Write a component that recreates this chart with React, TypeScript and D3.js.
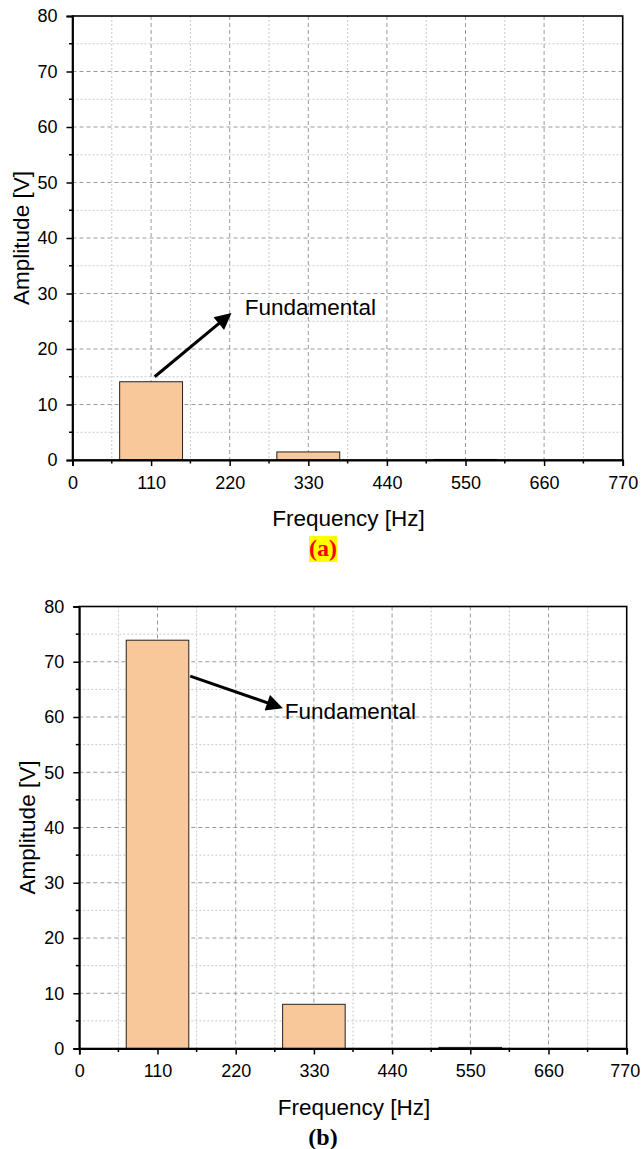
import React, { useEffect, useRef } from 'react';
import * as d3 from 'd3';

// harmonic spectrum
const harmonicsHz = [110, 330, 550];
const amplitudeA = [14.1, 1.45, 0.1];
const amplitudeB = [73.9, 8.0, 0.2];
const binWidthHz = 88;
const xTicks = [0, 110, 220, 330, 440, 550, 660, 770];
const yTicks = [0, 10, 20, 30, 40, 50, 60, 70, 80];

// arrow annotation: [startHz, startV, tipHz, tipV, labelHz, labelV]
const arrowA = [115, 15, 219, 26.1, 241, 27.6];
const arrowB = [156, 67.4, 282, 61.8, 289, 61];

const FONT = "'Liberation Sans', Arial, sans-serif";

interface PanelCfg {
  top: number;
  left: number;
  right: number;
  bottom: number;
  values: number[];
  arrow: number[];
  caption: string;
  captionY: number;
  captionHighlight: boolean;
}

const W = 641;
const H = 1149;
const CAPTION_X = 323;

const App: React.FC = () => {
  const svgRef = useRef<SVGSVGElement>(null);

  useEffect(() => {
    if (!svgRef.current) return;
    const svg = d3.select(svgRef.current);
    svg.selectAll('*').remove();

    const defs = svg.append('defs');
    defs.append('marker')
      .attr('id', 'arrowHead')
      .attr('viewBox', '0 0 10 10')
      .attr('refX', 8).attr('refY', 5)
      .attr('markerWidth', 6.5).attr('markerHeight', 5.5)
      .attr('markerUnits', 'strokeWidth')
      .attr('orient', 'auto')
      .append('path').attr('d', 'M0,0 L10,5 L0,10 z').attr('fill', '#000');

    const drawPanel = (cfg: PanelCfg) => {
      const x = d3.scaleLinear().domain([0, 770]).range([cfg.left, cfg.right]);
      const y = d3.scaleLinear().domain([0, 80]).range([cfg.bottom, cfg.top]);
      const g = svg.append('g');

      // grid: minor dotted, major dashed
      const minorX = d3.range(55, 770, 110);
      const minorY = d3.range(5, 80, 10);
      g.selectAll('.mgx').data(minorX).join('line')
        .attr('x1', d => x(d)).attr('x2', d => x(d))
        .attr('y1', cfg.top).attr('y2', cfg.bottom)
        .attr('stroke', '#c8c8c8').attr('stroke-width', 1).attr('stroke-dasharray', '2,2');
      g.selectAll('.mgy').data(minorY).join('line')
        .attr('y1', d => y(d)).attr('y2', d => y(d))
        .attr('x1', cfg.left).attr('x2', cfg.right)
        .attr('stroke', '#c8c8c8').attr('stroke-width', 1).attr('stroke-dasharray', '2,2');
      g.selectAll('.gx').data(xTicks.slice(1, -1)).join('line')
        .attr('x1', d => x(d)).attr('x2', d => x(d))
        .attr('y1', cfg.top).attr('y2', cfg.bottom)
        .attr('stroke', '#9a9a9a').attr('stroke-width', 1).attr('stroke-dasharray', '4,3');
      g.selectAll('.gy').data(yTicks.slice(1, -1)).join('line')
        .attr('y1', d => y(d)).attr('y2', d => y(d))
        .attr('x1', cfg.left).attr('x2', cfg.right)
        .attr('stroke', '#9a9a9a').attr('stroke-width', 1).attr('stroke-dasharray', '4,3');

      // bars
      g.selectAll('.bar').data(harmonicsHz).join('rect')
        .attr('x', d => x(d - binWidthHz / 2))
        .attr('width', d => x(d + binWidthHz / 2) - x(d - binWidthHz / 2))
        .attr('y', (_d, i) => y(cfg.values[i]))
        .attr('height', (_d, i) => y(0) - y(cfg.values[i]))
        .attr('fill', '#f9c89a')
        .attr('stroke', '#222').attr('stroke-width', 1);

      // frame
      g.append('rect')
        .attr('x', cfg.left).attr('y', cfg.top)
        .attr('width', cfg.right - cfg.left).attr('height', cfg.bottom - cfg.top)
        .attr('fill', 'none').attr('stroke', '#000').attr('stroke-width', 1.6);

      // axes
      const xAxis = d3.axisBottom(x).tickValues(xTicks).tickSize(6).tickPadding(10).tickFormat(d3.format('d'));
      const xa = g.append('g').attr('transform', `translate(0,${cfg.bottom})`).call(xAxis);
      const yAxis = d3.axisLeft(y).tickValues(yTicks).tickSize(6).tickPadding(9).tickFormat(d3.format('d'));
      const ya = g.append('g').attr('transform', `translate(${cfg.left},0)`).call(yAxis);
      [xa, ya].forEach(a => {
        a.attr('font-size', null).attr('font-family', null);
        a.select('.domain').attr('stroke-width', 1.8);
        a.selectAll('.tick line').attr('stroke-width', 1.5);
        a.selectAll('text')
          .style('font-family', FONT).style('font-size', '18px').attr('fill', '#000');
      });
      // keep the last x label inside the page
      xa.selectAll<SVGTextElement, number>('text')
        .attr('dx', d => (d === 770 && cfg.right > 624 ? -2 : 0));
      // minor ticks
      g.selectAll('.mtx').data(minorX).join('line')
        .attr('x1', d => x(d)).attr('x2', d => x(d))
        .attr('y1', cfg.bottom).attr('y2', cfg.bottom + 3.5)
        .attr('stroke', '#000').attr('stroke-width', 1.5);
      g.selectAll('.mty').data(minorY).join('line')
        .attr('y1', d => y(d)).attr('y2', d => y(d))
        .attr('x1', cfg.left).attr('x2', cfg.left - 3.5)
        .attr('stroke', '#000').attr('stroke-width', 1.5);

      // axis titles
      g.append('text')
        .attr('x', (cfg.left + cfg.right) / 2 + 1).attr('y', cfg.bottom + 66)
        .attr('text-anchor', 'middle').style('font-family', FONT).style('font-size', '22.5px')
        .text('Frequency [Hz]');
      g.append('text')
        .attr('transform', `translate(${cfg.left - 44},${(cfg.top + cfg.bottom) / 2}) rotate(-90)`)
        .attr('text-anchor', 'middle').style('font-family', FONT).style('font-size', '22.5px')
        .text('Amplitude [V]');

      // annotation
      const [sx, sy, tx, ty, lx, ly] = cfg.arrow;
      g.append('line')
        .attr('x1', x(sx)).attr('y1', y(sy)).attr('x2', x(tx)).attr('y2', y(ty))
        .attr('stroke', '#000').attr('stroke-width', 3)
        .attr('marker-end', 'url(#arrowHead)');
      g.append('text')
        .attr('x', x(lx)).attr('y', y(ly)).attr('dy', '0.35em')
        .style('font-family', FONT).style('font-size', '22.5px')
        .text('Fundamental');

      // caption
      const cap = g.append('text')
        .attr('x', CAPTION_X).attr('y', cfg.captionY)
        .attr('text-anchor', 'middle')
        .style('font-family', "'Liberation Serif', 'DejaVu Serif', serif")
        .style('font-weight', 'bold').style('font-size', '24px')
        .attr('fill', cfg.captionHighlight ? '#ff0000' : '#000')
        .text(cfg.caption);
      if (cfg.captionHighlight) {
        const bb = (cap.node() as SVGTextElement).getBBox();
        g.insert('rect', () => cap.node() as SVGTextElement)
          .attr('x', bb.x).attr('y', bb.y + 1)
          .attr('width', bb.width).attr('height', bb.height)
          .attr('fill', '#ffff00');
      }
    };

    drawPanel({ top: 16, left: 72.5, right: 622.7, bottom: 460, values: amplitudeA, arrow: arrowA,
      caption: '(a)', captionY: 556, captionHighlight: true });
    drawPanel({ top: 606.5, left: 79.3, right: 626.7, bottom: 1048.5, values: amplitudeB, arrow: arrowB,
      caption: '(b)', captionY: 1145, captionHighlight: false });
  }, []);

  return (
    <svg ref={svgRef} width={W} height={H}
      style={{ position: 'absolute', left: 0, top: 0, background: '#fff' }} />
  );
};

export default App;
